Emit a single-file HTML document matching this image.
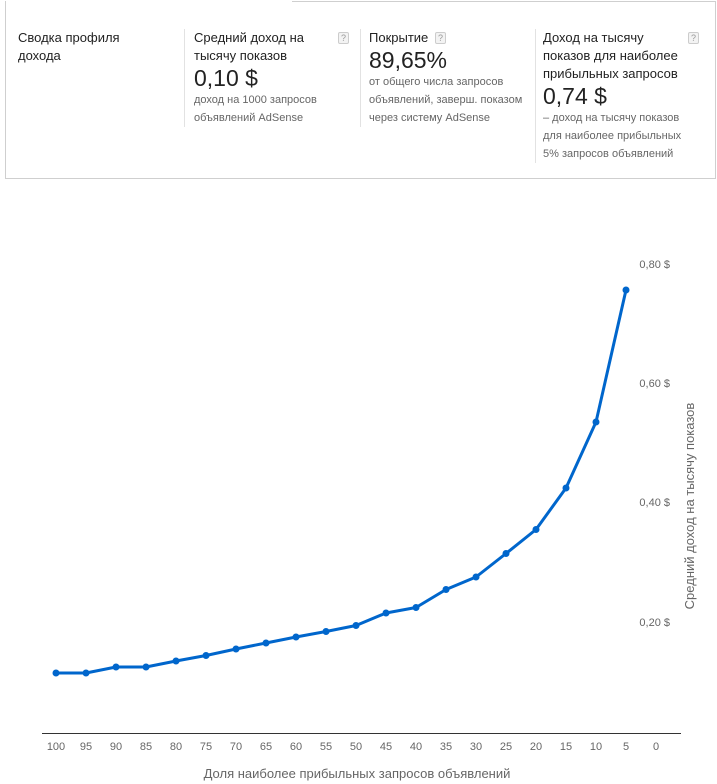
<!DOCTYPE html>
<html><head><meta charset="utf-8"><style>
*{margin:0;padding:0;box-sizing:border-box}
body{width:717px;height:784px;background:#fff;position:relative;font-family:"Liberation Sans",Arial,sans-serif;overflow:hidden}
.a{position:absolute;white-space:nowrap}
.h{font-size:13px;color:#222;line-height:18px}
.b{font-size:23px;color:#222;line-height:26px}
.s{font-size:11px;color:#666;line-height:18px}
.q{position:absolute;width:11px;height:12px;border:1px solid #ccc;background:#f3f3f3;color:#999;font-size:9px;line-height:10px;text-align:center;border-radius:2px}
.d{position:absolute;width:1px;background:#e2e2e2}
</style></head><body>
<div style="position:absolute;left:5px;top:1px;width:711px;height:178px;border:1px solid #cfcfcf;border-top:none"></div>
<div style="position:absolute;left:292px;top:1px;width:424px;height:1px;background:#cfcfcf"></div>
<div class="d" style="left:184px;top:29px;height:98px"></div>
<div class="d" style="left:360px;top:29px;height:98px"></div>
<div class="d" style="left:535px;top:29px;height:134px"></div>

<div class="a h" style="left:18px;top:29px">Сводка профиля<br>дохода</div>

<div class="a h" style="left:194px;top:29px">Средний доход на<br>тысячу показов</div>
<div class="q" style="left:338px;top:32px">?</div>
<div class="a b" style="left:194px;top:65px">0,10 $</div>
<div class="a s" style="left:194px;top:91px">доход на 1000 запросов<br>объявлений AdSense</div>

<div class="a h" style="left:369px;top:29px">Покрытие</div>
<div class="q" style="left:435px;top:32px">?</div>
<div class="a b" style="left:369px;top:47px">89,65%</div>
<div class="a s" style="left:369px;top:73px">от общего числа запросов<br>объявлений, заверш. показом<br>через систему AdSense</div>

<div class="a h" style="left:543px;top:29px">Доход на тысячу<br>показов для наиболее<br>прибыльных запросов</div>
<div class="q" style="left:688px;top:32px">?</div>
<div class="a b" style="left:543px;top:83px">0,74 $</div>
<div class="a s" style="left:543px;top:109px">– доход на тысячу показов<br>для наиболее прибыльных<br>5% запросов объявлений</div>

<svg width="717" height="784" style="position:absolute;left:0;top:0" font-family="Liberation Sans, Arial, sans-serif">
<line x1="42" y1="733.5" x2="681" y2="733.5" stroke="#333" stroke-width="1"/>
<g font-size="11" fill="#666" text-anchor="middle">
<text x="56" y="750">100</text><text x="86" y="750">95</text><text x="116" y="750">90</text><text x="146" y="750">85</text><text x="176" y="750">80</text><text x="206" y="750">75</text><text x="236" y="750">70</text><text x="266" y="750">65</text><text x="296" y="750">60</text><text x="326" y="750">55</text><text x="356" y="750">50</text><text x="386" y="750">45</text><text x="416" y="750">40</text><text x="446" y="750">35</text><text x="476" y="750">30</text><text x="506" y="750">25</text><text x="536" y="750">20</text><text x="566" y="750">15</text><text x="596" y="750">10</text><text x="626" y="750">5</text><text x="656" y="750">0</text>
</g>
<g font-size="11" fill="#666" text-anchor="end">
<text x="670" y="268">0,80 $</text><text x="670" y="387">0,60 $</text><text x="670" y="506">0,40 $</text><text x="670" y="626">0,20 $</text>
</g>
<text x="357" y="778" font-size="13" fill="#666" text-anchor="middle">Доля наиболее прибыльных запросов объявлений</text>
<text transform="translate(694,506) rotate(-90)" font-size="13" fill="#666" text-anchor="middle">Средний доход на тысячу показов</text>
<polyline fill="none" stroke="#0066cc" stroke-width="3" stroke-linejoin="round" points="56,673 86,673 116,667 146,667 176,661 206,655.5 236,649 266,643 296,637 326,631.5 356,625.5 386,613 416,607.5 446,589.5 476,577 506,553.5 536,529.5 566,488 596,422 626,290"/>
<g fill="#0066cc">
<circle cx="56" cy="673" r="3.5"/><circle cx="86" cy="673" r="3.5"/><circle cx="116" cy="667" r="3.5"/><circle cx="146" cy="667" r="3.5"/><circle cx="176" cy="661" r="3.5"/><circle cx="206" cy="655.5" r="3.5"/><circle cx="236" cy="649" r="3.5"/><circle cx="266" cy="643" r="3.5"/><circle cx="296" cy="637" r="3.5"/><circle cx="326" cy="631.5" r="3.5"/><circle cx="356" cy="625.5" r="3.5"/><circle cx="386" cy="613" r="3.5"/><circle cx="416" cy="607.5" r="3.5"/><circle cx="446" cy="589.5" r="3.5"/><circle cx="476" cy="577" r="3.5"/><circle cx="506" cy="553.5" r="3.5"/><circle cx="536" cy="529.5" r="3.5"/><circle cx="566" cy="488" r="3.5"/><circle cx="596" cy="422" r="3.5"/><circle cx="626" cy="290" r="3.5"/>
</g>
</svg>
</body></html>
